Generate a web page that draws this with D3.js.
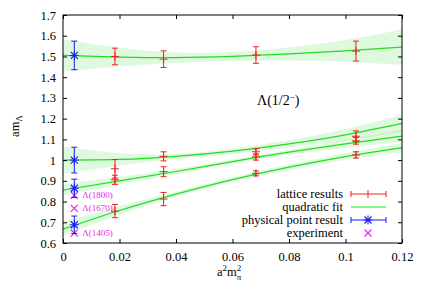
<!DOCTYPE html>
<html>
<head>
<meta charset="utf-8">
<style>
body { margin: 0; background: #fff; }
svg text { font-family: "Liberation Serif", "DejaVu Serif", serif !important; }
</style>
</head>
<body>
<svg width="425" height="298"></svg>
<script src="https://cdn.jsdelivr.net/npm/d3@7"></script>
<script>

// lattice points: x = a^2 m_pi^2
var latX = [0.0184, 0.0356, 0.0683, 0.1037];
var latTop = [1.500, 1.487, 1.507, 1.526], latTopErr = [0.040, 0.040, 0.040, 0.048];
var latA = [0.958, 1.018, 1.040, 1.115],   latAErr = [0.045, 0.022, 0.015, 0.026];
var latB = [0.905, 0.944, 1.015, 1.093],   latBErr = [0.022, 0.024, 0.015, 0.016];
var latC = [0.754, 0.812, 0.936, 1.025],   latCErr = [0.032, 0.032, 0.012, 0.015];

// physical point results at x = 0.004
var physX = 0.004;
var physVal = [1.505, 1.000, 0.864, 0.688];
var physErr = [0.069, 0.062, 0.044, 0.042];

// experiment
var expName = ["\u039b(1800)", "\u039b(1670)", "\u039b(1405)"];
var expVal = [0.830, 0.767, 0.648];

// quadratic fit curves and error band half widths, read at fitX
var fitX = [0, 0.02, 0.04, 0.06, 0.08, 0.10, 0.12];
var fitTop = [1.505, 1.497, 1.494, 1.500, 1.512, 1.527, 1.545];
var bandTop = [0.078, 0.045, 0.025, 0.022, 0.032, 0.052, 0.085];
var fitA = [1.000, 1.003, 1.018, 1.043, 1.078, 1.122, 1.177];
var bandA = [0.065, 0.030, 0.013, 0.012, 0.018, 0.028, 0.040];
var fitB = [0.855, 0.900, 0.945, 0.993, 1.038, 1.078, 1.116];
var bandB = [0.030, 0.018, 0.012, 0.010, 0.012, 0.020, 0.030];
var fitC = [0.667, 0.757, 0.836, 0.906, 0.966, 1.017, 1.060];
var bandC = [0.035, 0.020, 0.012, 0.010, 0.012, 0.016, 0.022];

var xTicks = [0, 0.02, 0.04, 0.06, 0.08, 0.1, 0.12];
var yTicks = [0.6, 0.7, 0.8, 0.9, 1, 1.1, 1.2, 1.3, 1.4, 1.5, 1.6, 1.7];

var red = "#ee2222", green = "#22dd22", blue = "#1a1aee", magenta = "#ee22ee";
var fs = 12.5;

var svg = d3.select("svg");
var L = 63, R = 402, T = 15, B = 243;

var x = d3.scaleLinear().domain([0, 0.12]).range([L, R]);
var y = d3.scaleLinear().domain([0.6, 1.7]).range([B, T]);

var g = svg.append("g");

// bands
var fits = [[fitTop, bandTop], [fitA, bandA], [fitB, bandB], [fitC, bandC]];
var area = d3.area()
    .x(function(d) { return x(d[0]); })
    .y0(function(d) { return y(d[1] - d[2]); })
    .y1(function(d) { return y(d[1] + d[2]); })
    .curve(d3.curveNatural);
var line = d3.line()
    .x(function(d) { return x(d[0]); })
    .y(function(d) { return y(d[1]); })
    .curve(d3.curveNatural);

fits.forEach(function(f) {
  var pts = fitX.map(function(v, i) { return [v, f[0][i], f[1][i]]; });
  g.append("path").attr("d", area(pts))
    .attr("fill", "#7be87b").attr("fill-opacity", 0.25);
});
fits.forEach(function(f) {
  var pts = fitX.map(function(v, i) { return [v, f[0][i]]; });
  g.append("path").attr("d", line(pts))
    .attr("fill", "none").attr("stroke", green).attr("stroke-width", 1.2);
});

function errBar(cx, cy, lo, hi, col, cap) {
  g.append("line").attr("x1", cx).attr("x2", cx).attr("y1", lo).attr("y2", hi)
    .attr("stroke", col).attr("stroke-width", 1);
  [lo, hi].forEach(function(v) {
    g.append("line").attr("x1", cx - cap).attr("x2", cx + cap).attr("y1", v).attr("y2", v)
      .attr("stroke", col).attr("stroke-width", 1);
  });
}
function plus(cx, cy, s, col) {
  g.append("line").attr("x1", cx - s).attr("x2", cx + s).attr("y1", cy).attr("y2", cy)
    .attr("stroke", col).attr("stroke-width", 1);
  g.append("line").attr("x1", cx).attr("x2", cx).attr("y1", cy - s).attr("y2", cy + s)
    .attr("stroke", col).attr("stroke-width", 1);
}
function cross(cx, cy, s, col) {
  g.append("path").attr("d", "M" + (cx - s) + "," + (cy - s) + "L" + (cx + s) + "," + (cy + s) +
      "M" + (cx - s) + "," + (cy + s) + "L" + (cx + s) + "," + (cy - s))
    .attr("stroke", col).attr("stroke-width", 1.2).attr("fill", "none");
}

// lattice
[[latTop, latTopErr], [latA, latAErr], [latB, latBErr], [latC, latCErr]].forEach(function(s) {
  latX.forEach(function(v, i) {
    var cx = x(v), cy = y(s[0][i]);
    errBar(cx, cy, y(s[0][i] - s[1][i]), y(s[0][i] + s[1][i]), red, 3);
    plus(cx, cy, 4, red);
  });
});

// experiment
expVal.forEach(function(v, i) {
  cross(x(physX), y(v), 3.5, magenta);
  g.append("text").attr("x", x(physX) + 8).attr("y", y(v) + 3)
    .attr("font-size", 9).attr("fill", magenta).text(expName[i]);
});

// physical point
physVal.forEach(function(v, i) {
  var cx = x(physX), cy = y(v);
  errBar(cx, cy, y(v - physErr[i]), y(v + physErr[i]), blue, 3);
  plus(cx, cy, 4.5, blue);
  cross(cx, cy, 3.5, blue);
});

// frame and ticks
g.append("rect").attr("x", L).attr("y", T).attr("width", R - L).attr("height", B - T)
  .attr("fill", "none").attr("stroke", "#000").attr("stroke-width", 1);

var axB = g.append("g").attr("transform", "translate(0," + B + ")")
  .call(d3.axisBottom(x).tickValues(xTicks).tickSize(-4).tickPadding(9)
    .tickFormat(function(d) { return d === 0 ? "0" : String(d); }));
var axT = g.append("g").attr("transform", "translate(0," + T + ")")
  .call(d3.axisTop(x).tickValues(xTicks).tickSize(-4).tickFormat(""));
var axL = g.append("g").attr("transform", "translate(" + L + ",0)")
  .call(d3.axisLeft(y).tickValues(yTicks).tickSize(-4).tickPadding(7)
    .tickFormat(function(d) { return d === 1 ? "1" : d3.format(".1f")(d); }));
var axR = g.append("g").attr("transform", "translate(" + R + ",0)")
  .call(d3.axisRight(y).tickValues(yTicks).tickSize(-4).tickFormat(""));
[axB, axT, axL, axR].forEach(function(a) {
  a.attr("font-family", null);
  a.select(".domain").remove();
  a.selectAll("text").attr("font-size", fs).attr("fill", "#000");
  a.selectAll("line").attr("stroke", "#000");
});

// axis titles
var yl = svg.append("text").attr("transform", "translate(19,126) rotate(-90)")
  .attr("text-anchor", "middle").attr("font-size", fs);
yl.append("tspan").text("am");
yl.append("tspan").attr("dy", 3).attr("font-size", 9).text("\u039b");

var xl = svg.append("text").attr("x", 217).attr("y", 276).attr("font-size", fs);
xl.append("tspan").text("a");
xl.append("tspan").attr("dy", -5).attr("font-size", 9).text("2");
xl.append("tspan").attr("dy", 5).text("m");
xl.append("tspan").attr("dy", -5).attr("font-size", 9).text("2");
xl.append("tspan").attr("dx", -4.5).attr("dy", 9).attr("font-size", 9).text("\u03c0");

// annotation
var an = svg.append("text").attr("x", 257).attr("y", 105).attr("font-size", 14);
an.append("tspan").text("\u039b(1/2");
an.append("tspan").attr("dy", -5).attr("font-size", 9).text("\u2212");
an.append("tspan").attr("dy", 5).text(")");

// legend
var legNames = ["lattice results", "quadratic fit", "physical point result", "experiment"];
var legY = [194, 207, 220, 233];
legNames.forEach(function(n, i) {
  svg.append("text").attr("x", 343).attr("y", legY[i] + 4).attr("text-anchor", "end")
    .attr("font-size", fs).text(n);
});
var lx0 = 351, lx1 = 386, lxm = 368;
[red, green, blue].forEach(function(c, i) {
  svg.append("line").attr("x1", lx0).attr("x2", lx1).attr("y1", legY[i]).attr("y2", legY[i])
    .attr("stroke", c).attr("stroke-width", i === 1 ? 1.2 : 1);
  if (i !== 1) {
    [lx0, lx1].forEach(function(v) {
      svg.append("line").attr("x1", v).attr("x2", v).attr("y1", legY[i] - 3).attr("y2", legY[i] + 3)
        .attr("stroke", c);
    });
  }
});
g.append("line").attr("x1", lxm).attr("x2", lxm).attr("y1", legY[0] - 4).attr("y2", legY[0] + 4).attr("stroke", red);
plus(lxm, legY[2], 4.5, blue);
cross(lxm, legY[2], 3.5, blue);
cross(lxm, legY[3], 3.5, magenta);

</script>
</body>
</html>
